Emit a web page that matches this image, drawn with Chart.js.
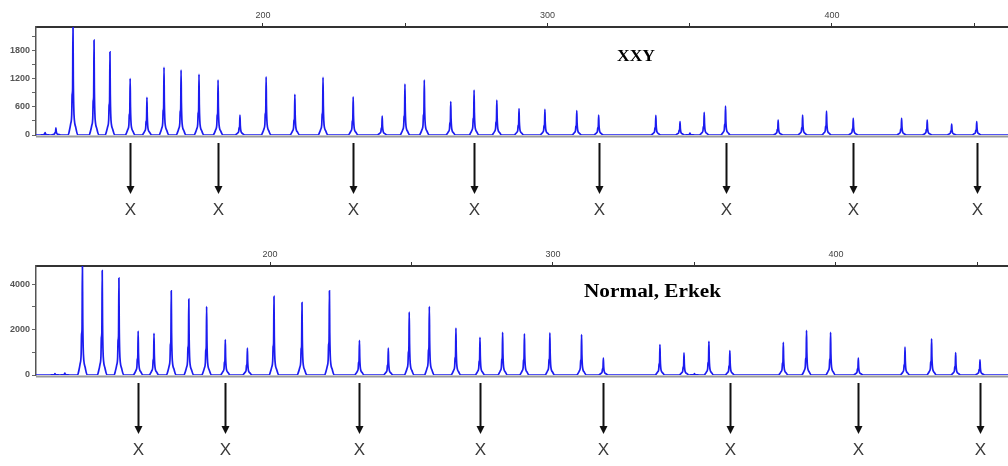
<!DOCTYPE html>
<html><head><meta charset="utf-8">
<script src="https://cdn.jsdelivr.net/npm/chart.js@4.4.1/dist/chart.umd.min.js"></script>
<style>
html,body{margin:0;padding:0;background:#fff;width:1008px;height:466px;overflow:hidden}
canvas{position:absolute;left:0}
#c1{top:0}
#c2{top:235px}
</style></head><body>
<canvas id="c1" width="1008" height="235"></canvas>
<canvas id="c2" width="1008" height="231"></canvas>
<script>
// ---- data ----
const xTickValues = [200, 250, 300, 350, 400, 450];
const xTickLabels = ['200', '', '300', '', '400', ''];
const topYTicks = [0, 300, 600, 900, 1200, 1500, 1800, 2100];
const topYLabels = ['0', '', '600', '', '1200', '', '1800', ''];
const botYTicks = [0, 1000, 2000, 3000, 4000];
const botYLabels = ['0', '', '2000', '', '4000'];

const xxySizes = [123.4,127.2,133.2,140.6,146.2,153.3,159.2,165.2,171.2,177.5,184.2,191.9,
  201.1,211.2,221.1,231.7,241.9,249.9,256.7,266.0,274.2,282.2,290.0,299.1,
  310.3,318.0,338.1,346.6,350.1,355.1,362.6,381.1,389.7,398.1,407.5,424.5,433.5,442.1,450.9];
const xxyHeights = [50,150,2400,2020,1770,1200,800,1440,1380,1290,1170,425,
  1240,866,1230,815,404,1085,1170,709,957,745,560,547,
  517,425,419,283,40,483,617,319,425,511,355,355,319,234,283];

const normalSizes = [124.0,127.5,133.7,140.7,146.6,153.4,159.0,165.1,171.3,177.6,184.2,192.0,
  201.4,211.3,221.0,231.6,241.8,249.2,256.3,265.7,274.2,282.2,289.9,298.9,
  310.1,317.8,337.8,346.3,350.0,355.1,362.5,381.4,389.6,398.1,407.9,424.4,433.8,442.3,450.9];
const normalHeights = [60,80,5000,4600,4270,1930,1830,3710,3340,3010,1560,1190,
  3460,3190,3710,1530,1190,2770,3010,2060,1660,1880,1810,1860,
  1780,740,1340,970,60,1480,1080,1440,1970,1880,740,1230,1590,990,670];

const xxyMarkers = [153.3,184.2,231.7,274.2,318.0,362.6,407.5,450.9];
const normalMarkers = [153.4,184.2,231.6,274.2,317.8,362.5,407.9,450.9];
const markerLabel = 'X';
const titleTop = 'XXY';
const titleBottom = 'Normal, Erkek';

// ---- peak shape (style): spike with shoulder and rounded foot ----
const peakProfile = [[-1.7,0],[-1.25,0.04],[-0.8,0.1],[-0.45,0.18],[-0.3,0.36],[-0.14,0.4],
  [0,1],[0.12,0.5],[0.28,0.24],[0.5,0.13],[0.95,0.07],[1.7,0]];

function buildTrace(sizes, heights, xmin, xmax) {
  const pts = [{x: xmin, y: 0}];
  sizes.forEach((s, i) => {
    peakProfile.forEach(([dx, f]) => pts.push({x: s + dx, y: heights[i] * f}));
  });
  pts.push({x: xmax, y: 0});
  pts.sort((a, b) => a.x - b.x);
  return pts;
}

function decor(markers, title, tx, ty, tfont, tWidth) {
  return {
    id: 'decor',
    beforeDatasetsDraw(chart) {
      const {ctx, chartArea: a, scales: {y}} = chart;
      const y0 = y.getPixelForValue(0);
      ctx.save();
      ctx.strokeStyle = '#9a9a9a';
      ctx.lineWidth = 2;
      ctx.beginPath();
      ctx.moveTo(a.left, y0 + 1.5);
      ctx.lineTo(a.right, y0 + 1.5);
      ctx.stroke();
      ctx.restore();
    },
    afterDraw(chart) {
      const {ctx, chartArea: a, scales: {x}} = chart;
      ctx.save();
      markers.forEach(m => {
        const px = Math.round(x.getPixelForValue(m)) + 0.5;
        const y1 = a.bottom + 8, tip = a.bottom + 59;
        ctx.strokeStyle = '#111';
        ctx.lineWidth = 2;
        ctx.beginPath();
        ctx.moveTo(px, y1);
        ctx.lineTo(px, tip - 6);
        ctx.stroke();
        ctx.fillStyle = '#111';
        ctx.beginPath();
        ctx.moveTo(px - 4, tip - 8);
        ctx.lineTo(px + 4, tip - 8);
        ctx.lineTo(px, tip);
        ctx.closePath();
        ctx.fill();
        ctx.fillStyle = '#3a3a3a';
        ctx.font = '17px "Liberation Sans", Arial, sans-serif';
        ctx.textAlign = 'center';
        ctx.textBaseline = 'middle';
        ctx.fillText(markerLabel, px, a.bottom + 75);
      });
      ctx.fillStyle = '#000';
      ctx.font = tfont;
      ctx.textAlign = 'left';
      ctx.textBaseline = 'middle';
      const w = ctx.measureText(title).width;
      const sx = tWidth ? tWidth / w : 1;
      ctx.translate(tx, ty);
      ctx.scale(sx, 1);
      ctx.fillText(title, 0, 0);
      ctx.restore();
    }
  };
}

function makeChart(id, sizes, heights, xmin, xmax, ymax, yTicks, yLabels, topH, padBottom, plugin) {
  const xLab = Object.fromEntries(xTickValues.map((v, i) => [v, xTickLabels[i]]));
  const yLab = Object.fromEntries(yTicks.map((v, i) => [v, yLabels[i]]));
  return new Chart(document.getElementById(id), {
    type: 'line',
    data: {
      datasets: [{
        data: buildTrace(sizes, heights, xmin, xmax),
        borderColor: '#1c1cf0',
        borderWidth: 1.7,
        pointRadius: 0,
        fill: false,
        cubicInterpolationMode: 'monotone'
      }]
    },
    options: {
      responsive: false,
      animation: false,
      devicePixelRatio: 1,
      layout: {padding: {left: 0, right: 0, top: 0, bottom: padBottom}},
      plugins: {legend: {display: false}, tooltip: {enabled: false}, title: {display: false}},
      scales: {
        x: {
          type: 'linear', position: 'top', min: xmin, max: xmax,
          afterBuildTicks: s => { s.ticks = xTickValues.map(v => ({value: v})); },
          afterFit: s => { s.height = topH; s.paddingLeft = 0; s.paddingRight = 0; },
          ticks: {
            autoSkip: false, maxRotation: 0, padding: 2,
            callback: v => xLab[v] ?? '',
            font: {family: 'Liberation Sans', size: 9}, color: '#444'
          },
          grid: {drawOnChartArea: false, drawTicks: true, tickLength: 4, color: '#333', lineWidth: 1},
          border: {display: true, color: '#333', width: 2}
        },
        y: {
          min: 0, max: ymax,
          afterBuildTicks: s => { s.ticks = yTicks.map(v => ({value: v})); },
          afterFit: s => { s.width = 36; s.paddingTop = 0; s.paddingBottom = 0; },
          ticks: {
            autoSkip: false, padding: 2,
            callback: v => yLab[v] ?? '',
            font: {family: 'Liberation Sans', size: 9, weight: 'bold'}, color: '#555'
          },
          grid: {drawOnChartArea: false, drawTicks: true, tickLength: 4, color: '#666', lineWidth: 1},
          border: {display: true, color: '#555', width: 1.5}
        }
      }
    },
    plugins: [plugin]
  });
}

makeChart('c1', xxySizes, xxyHeights, 120.2, 461.9, 2300, topYTicks, topYLabels, 27, 100,
  decor(xxyMarkers, titleTop, 617, 57, 'bold 17px "Liberation Serif", serif', 38));
makeChart('c2', normalSizes, normalHeights, 117.3, 460.8, 4800, botYTicks, botYLabels, 31, 91,
  decor(normalMarkers, titleBottom, 584, 57, 'bold 18px "Liberation Serif", serif', 137));
</script>
</body></html>
